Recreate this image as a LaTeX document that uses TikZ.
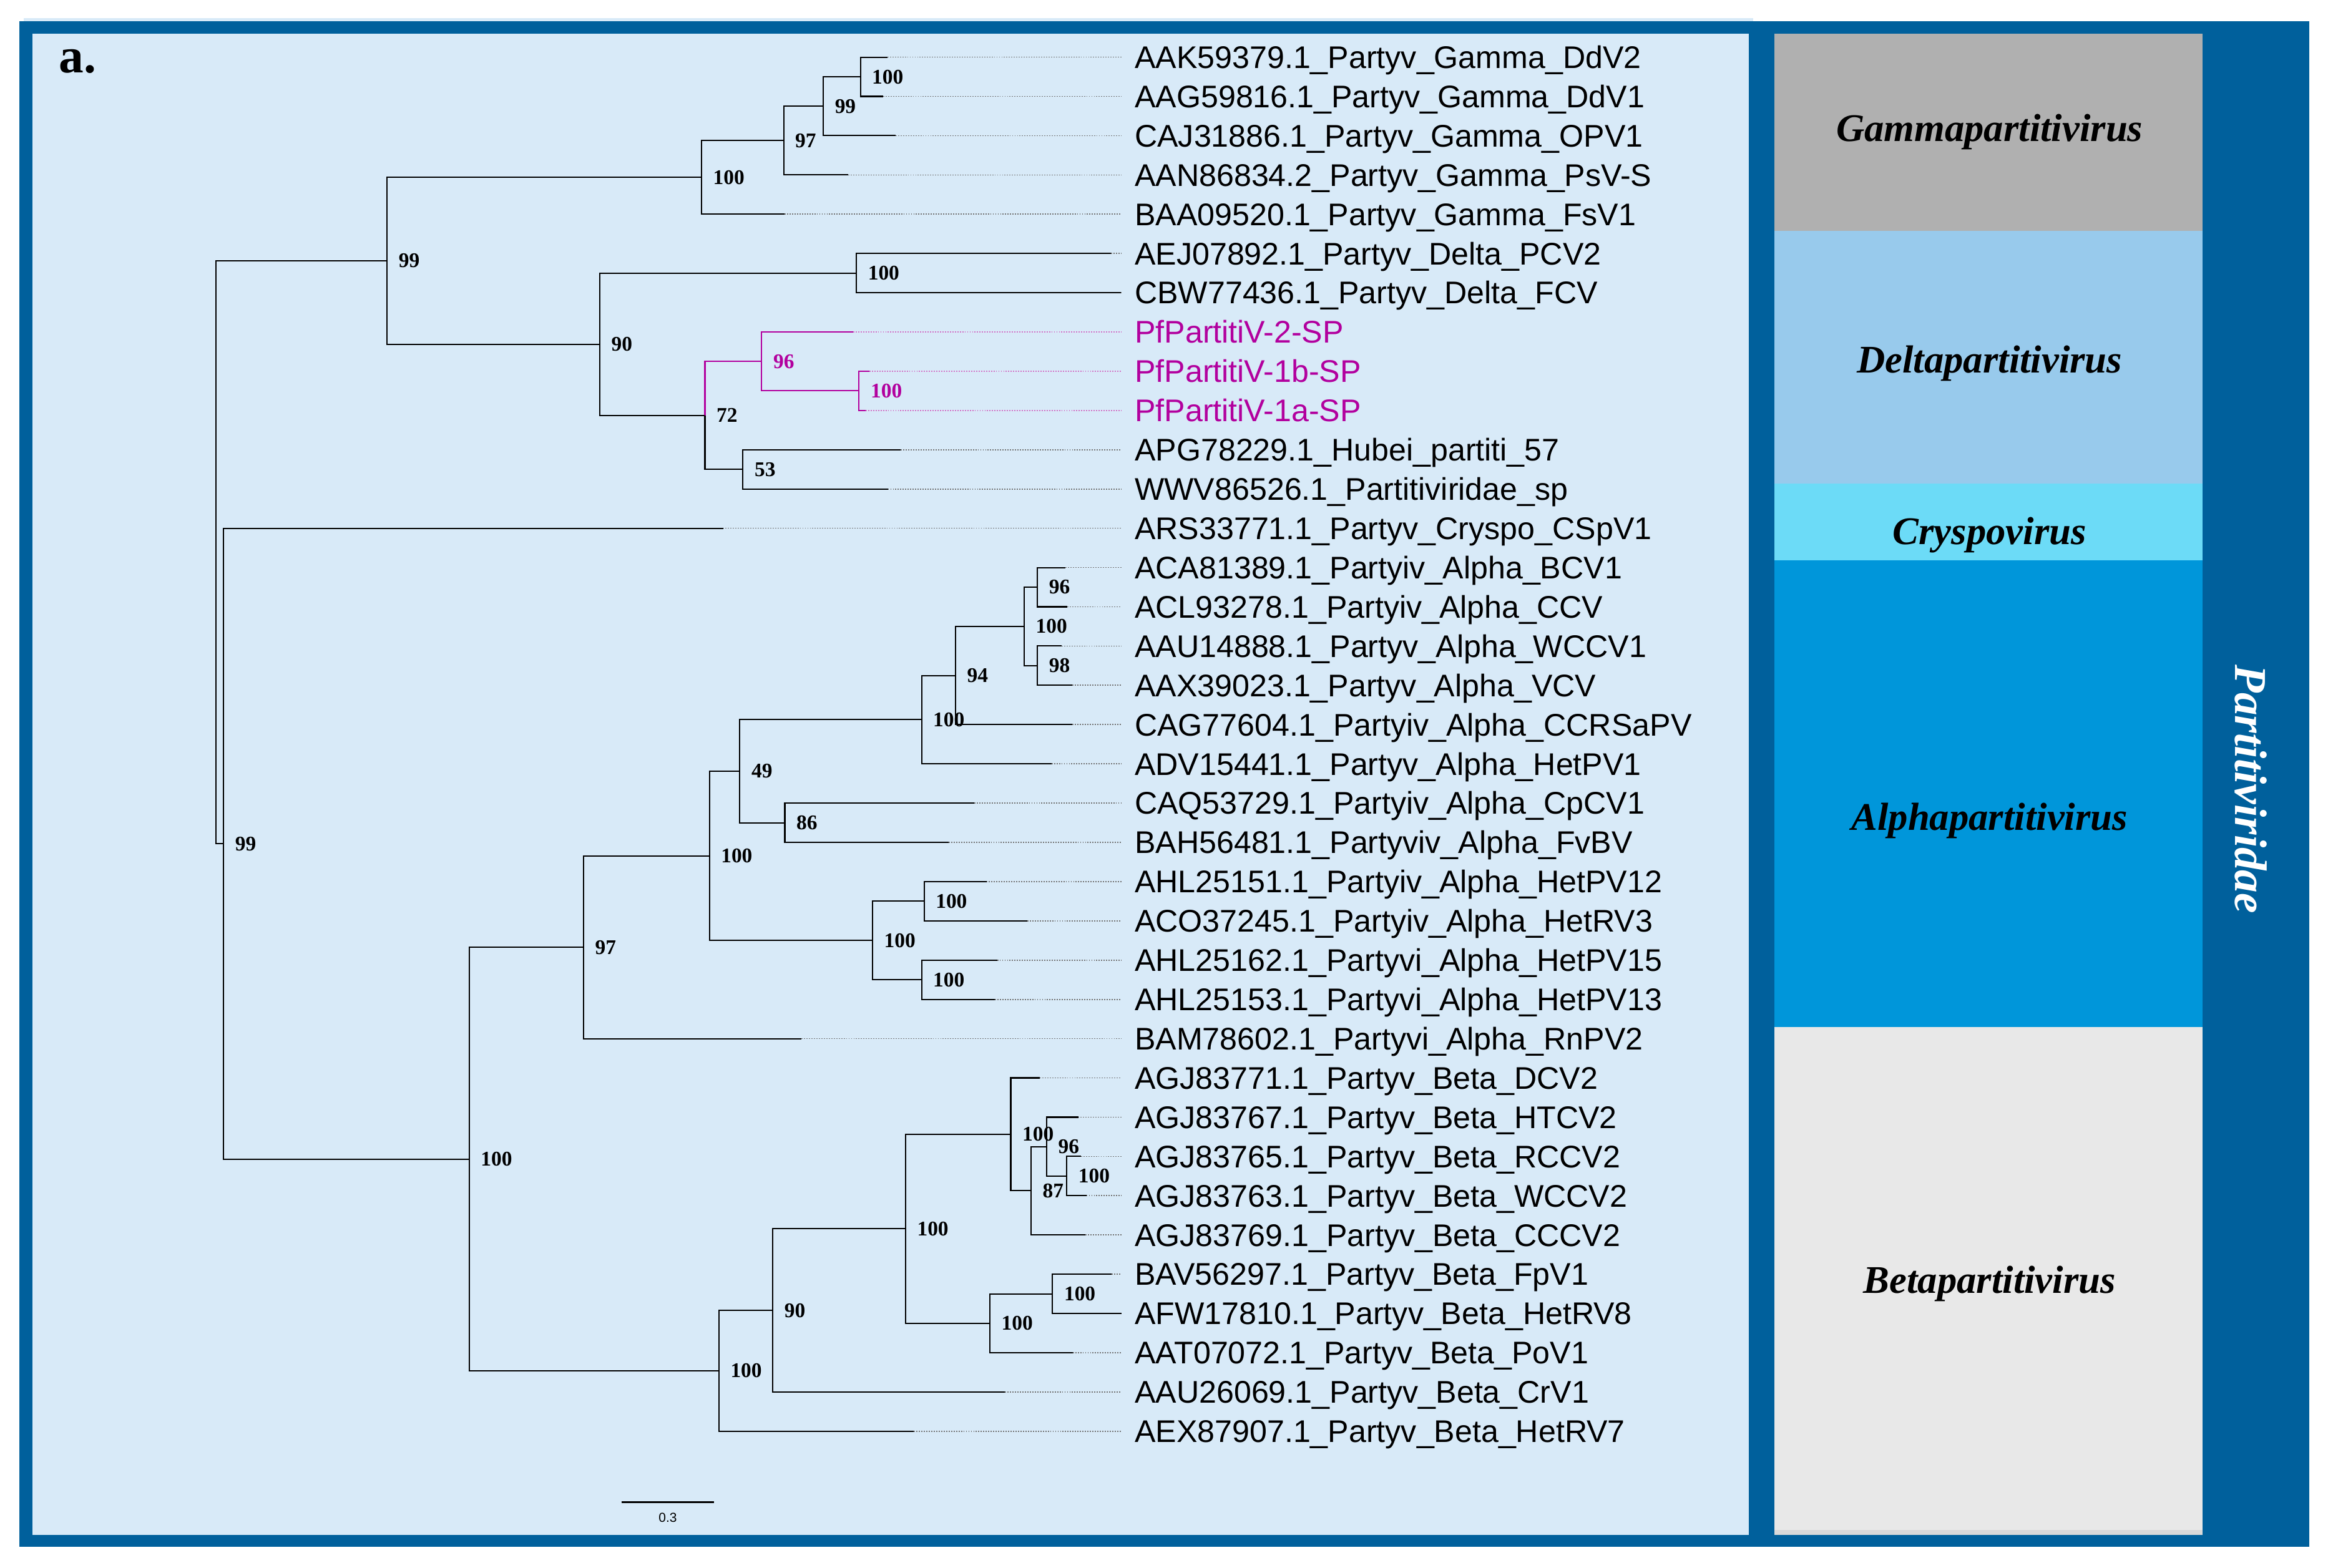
\documentclass[tikz,border=0pt]{standalone}
\usepackage{fontspec}
\setmainfont{Liberation Serif}
\newfontfamily\arialf{Liberation Sans}
\definecolor{darkframe}{RGB}{0,96,156}
\definecolor{panelbg}{RGB}{216,234,248}
\definecolor{gammac}{RGB}{176,176,176}
\definecolor{deltac}{RGB}{152,202,236}
\definecolor{crysc}{RGB}{108,219,247}
\definecolor{alphac}{RGB}{0,150,218}
\definecolor{betac}{RGB}{232,232,232}
\definecolor{pfmag}{RGB}{178,0,158}
\definecolor{pfdot}{RGB}{210,115,198}
\newcommand\mkleaf[5]{%
  \coordinate (#1) at (#3,#2);
  \coordinate (#1d) at (755.2,#2);
  \draw[dot-#5] (#1) -- (#1d);
  \node[lab-#5] (#1t) at (764,{#2+7.5}) {#4};
}
\newcommand\mknode[5]{%
  \coordinate (#1) at (#2,#3);
  \node[bs-#5] (#1l) at ({#2+7.5},#3) {#4};
}
\begin{document}
\begin{tikzpicture}[x=0.2mm,y=-0.2mm,
  br-k/.style={draw=black, line width=0.5pt},
  br-m/.style={draw=pfmag, line width=0.5pt},
  dot-k/.style={draw=black!55, line width=0.4pt, dash pattern=on 0.45pt off 0.5pt},
  dot-m/.style={draw=pfdot, line width=0.4pt, dash pattern=on 0.45pt off 0.5pt},
  lab-k/.style={anchor=base west, inner sep=0, text=black, font=\arialf\fontsize{12}{14}\selectfont},
  lab-m/.style={anchor=base west, inner sep=0, text=pfmag, font=\arialf\fontsize{12}{14}\selectfont},
  bs-k/.style={anchor=west, inner sep=0, text=black, font=\bfseries\fontsize{8}{9}\selectfont},
  bs-m/.style={anchor=west, inner sep=0, text=pfmag, font=\bfseries\fontsize{8}{9}\selectfont},
  genus/.style={inner sep=0, text=black, font=\bfseries\itshape\fontsize{15}{18}\selectfont},
]
\useasboundingbox (0,0) rectangle (1568,1056);
\fill[white] (0,0) rectangle (1568,1056);
% frame
\fill[panelbg] (16,12.3) rectangle (1180.8,14.4);
\fill[darkframe] (13,14.4) rectangle (1555.5,1042.2);
\fill[panelbg] (22,22.8) rectangle (1177.8,1034);
% genus boxes
\fill[gammac] (1195.2,22.8) rectangle (1483.5,155.5);
\fill[deltac] (1195.2,155.5) rectangle (1483.5,325.8);
\fill[crysc] (1195.2,325.8) rectangle (1483.5,377.5);
\fill[alphac] (1195.2,377.5) rectangle (1483.5,692);
\fill[betac] (1195.2,692) rectangle (1483.5,1034);
\fill[black!15] (1195.2,1030.6) rectangle (1483.5,1034);
\node[genus] (gG) at (1340,89) {Gammapartitivirus};
\node[genus] (gD) at (1340,245) {Deltapartitivirus};
\node[genus] (gC) at (1340,360.5) {Cryspovirus};
\node[genus] (gA) at (1340,553) {Alphapartitivirus};
\node[genus] (gB) at (1340,865) {Betapartitivirus};
\node[rotate=-90, inner sep=0, text=white, font=\bfseries\itshape\fontsize{17.5}{20}\selectfont] (fam) at (1516,531.7) {Partitiviridae};
% panel letter
\node[anchor=base west, inner sep=0, font=\bfseries\fontsize{19}{22}\selectfont] (panela) at (39.5,49) {a.};
% leaves
\mkleaf{L0}{38.5}{597.7}{AAK59379.1\_Partyv\_Gamma\_DdV2}{k}
\mkleaf{L1}{64.95}{594.8}{AAG59816.1\_Partyv\_Gamma\_DdV1}{k}
\mkleaf{L2}{91.4}{603.2}{CAJ31886.1\_Partyv\_Gamma\_OPV1}{k}
\mkleaf{L3}{117.85}{571.4}{AAN86834.2\_Partyv\_Gamma\_PsV-S}{k}
\mkleaf{L4}{144.3}{528.4}{BAA09520.1\_Partyv\_Gamma\_FsV1}{k}
\mkleaf{L5}{170.75}{748.3}{AEJ07892.1\_Partyv\_Delta\_PCV2}{k}
\mkleaf{L6}{197.2}{755}{CBW77436.1\_Partyv\_Delta\_FCV}{k}
\mkleaf{L7}{223.65}{574.6}{PfPartitiV-2-SP}{m}
\mkleaf{L8}{250.1}{585.6}{PfPartitiV-1b-SP}{m}
\mkleaf{L9}{276.55}{583}{PfPartitiV-1a-SP}{m}
\mkleaf{L10}{303.0}{606.8}{APG78229.1\_Hubei\_partiti\_57}{k}
\mkleaf{L11}{329.45}{598}{WWV86526.1\_Partitiviridae\_sp}{k}
\mkleaf{L12}{355.9}{487}{ARS33771.1\_Partyv\_Cryspo\_CSpV1}{k}
\mkleaf{L13}{382.35}{717.7}{ACA81389.1\_Partyiv\_Alpha\_BCV1}{k}
\mkleaf{L14}{408.8}{718.8}{ACL93278.1\_Partyiv\_Alpha\_CCV}{k}
\mkleaf{L15}{435.25}{715}{AAU14888.1\_Partyv\_Alpha\_WCCV1}{k}
\mkleaf{L16}{461.7}{722.4}{AAX39023.1\_Partyv\_Alpha\_VCV}{k}
\mkleaf{L17}{488.15}{722.4}{CAG77604.1\_Partyiv\_Alpha\_CCRSaPV}{k}
\mkleaf{L18}{514.6}{708.2}{ADV15441.1\_Partyv\_Alpha\_HetPV1}{k}
\mkleaf{L19}{541.05}{656.3}{CAQ53729.1\_Partyiv\_Alpha\_CpCV1}{k}
\mkleaf{L20}{567.5}{639}{BAH56481.1\_Partyviv\_Alpha\_FvBV}{k}
\mkleaf{L21}{593.95}{664.4}{AHL25151.1\_Partyiv\_Alpha\_HetPV12}{k}
\mkleaf{L22}{620.4}{691.9}{ACO37245.1\_Partyiv\_Alpha\_HetRV3}{k}
\mkleaf{L23}{646.85}{671.6}{AHL25162.1\_Partyvi\_Alpha\_HetPV15}{k}
\mkleaf{L24}{673.3}{670.1}{AHL25153.1\_Partyvi\_Alpha\_HetPV13}{k}
\mkleaf{L25}{699.75}{539.8}{BAM78602.1\_Partyvi\_Alpha\_RnPV2}{k}
\mkleaf{L26}{726.2}{700.3}{AGJ83771.1\_Partyv\_Beta\_DCV2}{k}
\mkleaf{L27}{752.65}{726.2}{AGJ83767.1\_Partyv\_Beta\_HTCV2}{k}
\mkleaf{L28}{779.1}{728}{AGJ83765.1\_Partyv\_Beta\_RCCV2}{k}
\mkleaf{L29}{805.55}{731.7}{AGJ83763.1\_Partyv\_Beta\_WCCV2}{k}
\mkleaf{L30}{832.0}{731.1}{AGJ83769.1\_Partyv\_Beta\_CCCV2}{k}
\mkleaf{L31}{858.45}{748.7}{BAV56297.1\_Partyv\_Beta\_FpV1}{k}
\mkleaf{L32}{884.9}{755.2}{AFW17810.1\_Partyv\_Beta\_HetRV8}{k}
\mkleaf{L33}{911.35}{722.5}{AAT07072.1\_Partyv\_Beta\_PoV1}{k}
\mkleaf{L34}{937.8}{676.9}{AAU26069.1\_Partyv\_Beta\_CrV1}{k}
\mkleaf{L35}{964.25}{615.5}{AEX87907.1\_Partyv\_Beta\_HetRV7}{k}
% internal nodes
\mknode{ga}{579.5}{51.725}{100}{k}
\mknode{gb}{554.5}{71.5625}{99}{k}
\mknode{gc}{527.8}{94.706}{97}{k}
\mknode{gd}{472.5}{119.503}{100}{k}
\mknode{da}{576.8}{183.975}{100}{k}
\mknode{ma}{578.6}{263.325}{100}{m}
\mknode{mb}{513}{243.4875}{96}{m}
\mknode{fa}{500.4}{316.225}{53}{k}
\mknode{fb}{474.8}{279.856}{72}{k}
\mknode{dc}{404}{231.916}{90}{k}
\mknode{ta}{260.7}{175.71}{99}{k}
\coordinate (root) at (145.6,372.04);
\mknode{tb}{150.6}{568.378}{99}{k}
\mknode{aa}{698.7}{395.575}{96}{k}
\mknode{ab}{698.7}{448.475}{98}{k}
\mknode{ac}{689.8}{422.025}{100}{k}
\mknode{ad}{643.6}{455.0875}{94}{k}
\mknode{ae}{620.7}{484.844}{100}{k}
\mknode{af}{528.6}{554.275}{86}{k}
\mknode{ag}{498.3}{519.559}{49}{k}
\mknode{ha}{622.4}{607.175}{100}{k}
\mknode{hb}{620.7}{660.075}{100}{k}
\mknode{hc}{587.7}{633.625}{100}{k}
\mknode{ah}{477.8}{576.592}{100}{k}
\mknode{ai}{393}{638.171}{97}{k}
\mknode{ba}{718.5}{792.325}{100}{k}
\mknode{bb}{704.9}{772.4875}{96}{k}
\mknode{bc}{694.4}{802.244}{87}{k}
\mknode{bd}{680.8}{764.222}{100}{k}
\mknode{be}{708.9}{871.675}{100}{k}
\mknode{bf}{666.7}{891.5125}{100}{k}
\mknode{bg}{609.9}{827.867}{100}{k}
\mknode{bh}{520.5}{882.834}{90}{k}
\mknode{bi}{484.2}{923.542}{100}{k}
\mknode{bj}{316}{780.857}{100}{k}
% branches
\draw[br-k] (ga) |- (L0); \draw[br-k] (ga) |- (L1);
\draw[br-k] (gb) |- (ga); \draw[br-k] (gb) |- (L2);
\draw[br-k] (gc) |- (gb); \draw[br-k] (gc) |- (L3);
\draw[br-k] (gd) |- (gc); \draw[br-k] (gd) |- (L4);
\draw[br-k] (da) |- (L5); \draw[br-k] (da) |- (L6);
\draw[br-m] (ma) |- (L8); \draw[br-m] (ma) |- (L9);
\draw[br-m] (mb) |- (L7); \draw[br-m] (mb) |- (ma);
\draw[br-k] (fa) |- (L10); \draw[br-k] (fa) |- (L11);
\draw[br-m] (fb) |- (mb); \draw[br-k] (fb) |- (fa);
\draw[br-k] (dc) |- (da); \draw[br-k] (dc) |- (fb);
\draw[br-k] (ta) |- (gd); \draw[br-k] (ta) |- (dc);
\draw[br-k] (root) |- (ta); \draw[br-k] (root) |- (tb);
\draw[br-k] (tb) |- (L12); \draw[br-k] (tb) |- (bj);
\draw[br-k] (aa) |- (L13); \draw[br-k] (aa) |- (L14);
\draw[br-k] (ab) |- (L15); \draw[br-k] (ab) |- (L16);
\draw[br-k] (ac) |- (aa); \draw[br-k] (ac) |- (ab);
\draw[br-k] (ad) |- (ac); \draw[br-k] (ad) |- (L17);
\draw[br-k] (ae) |- (ad); \draw[br-k] (ae) |- (L18);
\draw[br-k] (af) |- (L19); \draw[br-k] (af) |- (L20);
\draw[br-k] (ag) |- (ae); \draw[br-k] (ag) |- (af);
\draw[br-k] (ha) |- (L21); \draw[br-k] (ha) |- (L22);
\draw[br-k] (hb) |- (L23); \draw[br-k] (hb) |- (L24);
\draw[br-k] (hc) |- (ha); \draw[br-k] (hc) |- (hb);
\draw[br-k] (ah) |- (ag); \draw[br-k] (ah) |- (hc);
\draw[br-k] (ai) |- (ah); \draw[br-k] (ai) |- (L25);
\draw[br-k] (ba) |- (L28); \draw[br-k] (ba) |- (L29);
\draw[br-k] (bb) |- (L27); \draw[br-k] (bb) |- (ba);
\draw[br-k] (bc) |- (bb); \draw[br-k] (bc) |- (L30);
\draw[br-k] (bd) |- (L26); \draw[br-k] (bd) |- (bc);
\draw[br-k] (be) |- (L31); \draw[br-k] (be) |- (L32);
\draw[br-k] (bf) |- (be); \draw[br-k] (bf) |- (L33);
\draw[br-k] (bg) |- (bd); \draw[br-k] (bg) |- (bf);
\draw[br-k] (bh) |- (bg); \draw[br-k] (bh) |- (L34);
\draw[br-k] (bi) |- (bh); \draw[br-k] (bi) |- (L35);
\draw[br-k] (bj) |- (ai); \draw[br-k] (bj) |- (bi);
% scale bar
\coordinate (sbl) at (418.5,1011.9);
\coordinate (sbr) at (480.9,1011.9);
\draw[line width=0.7pt] (sbl) -- (sbr);
\node[inner sep=0, font=\arialf\fontsize{5}{6}\selectfont] (sbt) at (449.8,1022.4) {0.3};
\end{tikzpicture}
\end{document}
